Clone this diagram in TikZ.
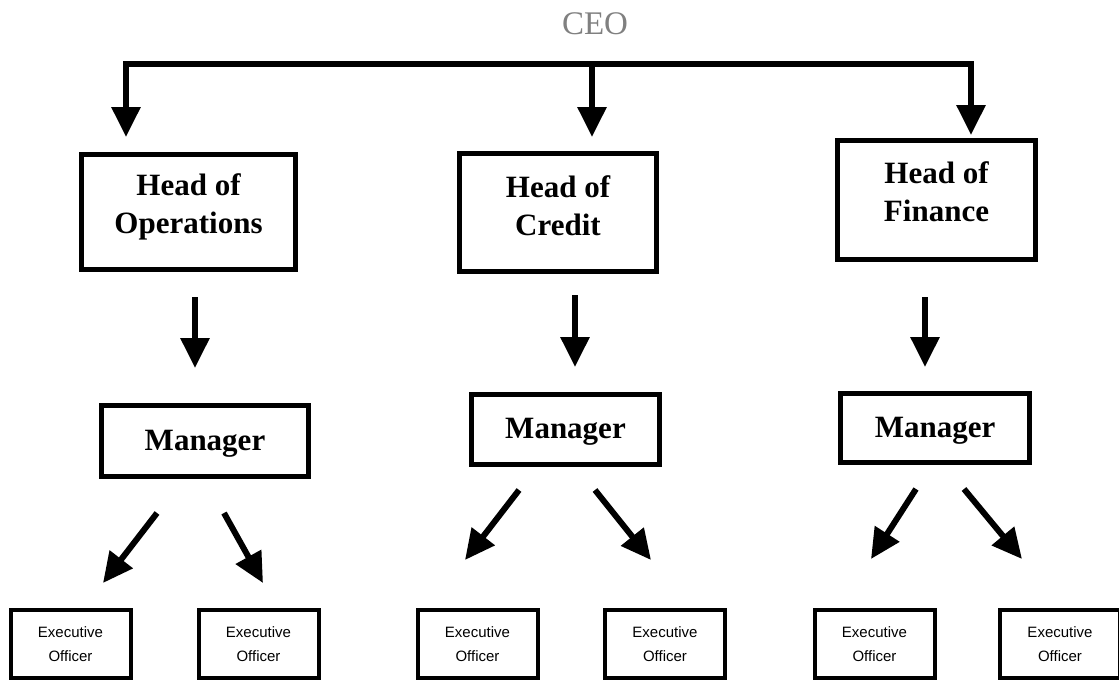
\documentclass[tikz,border=0pt]{standalone}
\usepackage{fontspec}
\setmainfont{Liberation Serif}
\setsansfont{Liberation Sans}
\usetikzlibrary{arrows.meta}
\begin{document}
\begin{tikzpicture}
[x=1pt,y=-1pt,
  headdecorate/.style={shape=rectangle,draw,line width=4.5pt,inner sep=0pt,align=center,%
    font=\bfseries\fontsize{31}{38}\selectfont},%
  execdecorate/.style={shape=rectangle,draw,line width=4pt,inner sep=0pt,align=center,%
    font=\sffamily\fontsize{15}{24}\selectfont},%
  linedecorate/.style={-{Triangle[width=28pt,length=30pt]},line width=6pt}]
\useasboundingbox (0,0) rectangle (1119,681);
%% top of the chart
\node (ceo) at (595,24) [text=black!50,font=\fontsize{33}{40}\selectfont] {CEO};
\coordinate (barL) at (123,64);
\coordinate (barR) at (974,64);
\draw[line width=6pt] (barL) -- (barR);
%% boxes: heads, managers, officers
\foreach \nodename/\x/\y/\w/\h/\d/\txt in {hop/188.5/212/214/115/16/{Head of\\Operations},
  hcr/558/212.5/197/118/13/{Head of\\Credit}, hfi/936.5/200/198/119/16/{Head of\\Finance},
  mop/205/441/207/71/2/{Manager}, mcr/565.5/429.5/188/70/2/{Manager},
  mfi/935/428/189/69/2/{Manager}} {
  \node (\nodename) at (\x,\y) [headdecorate,minimum width=\w pt,minimum height=\h pt,
    text depth=\d pt] {\txt};
}
\foreach \nodename/\x in {eo1/70.5, eo2/258.5, eo3/477.5, eo4/665, eo5/874.5, eo6/1060} {
  \node (\nodename) at (\x,644) [execdecorate,minimum width=120pt,minimum height=68pt]
    {Executive\\Officer};
}
%% arrow ends
\foreach \cname/\x/\y in {t1/126/64, t2/592/64, t3/971/64, h1/126/137, h2/592/137, h3/971/135,
  a1/195/297, b1/195/368, a2/575/295, b2/575/367, a3/925/297, b3/925/367,
  c1/157/513, d1/103/583, c2/224/513, d2/263/583,
  c3/519/490, d3/465/560, c4/595/490, d4/651/560,
  c5/916/489, d5/871/559, c6/964/489, d6/1022/559} {
  \coordinate (\cname) at (\x,\y);
}
%% arrows
\path
\foreach \startnode/\endnode in {t1/h1, t2/h2, t3/h3, a1/b1, a2/b2, a3/b3,
  c1/d1, c2/d2, c3/d3, c4/d4, c5/d5, c6/d6} {
  (\startnode) edge[linedecorate] (\endnode)
};
\end{tikzpicture}
\end{document}
